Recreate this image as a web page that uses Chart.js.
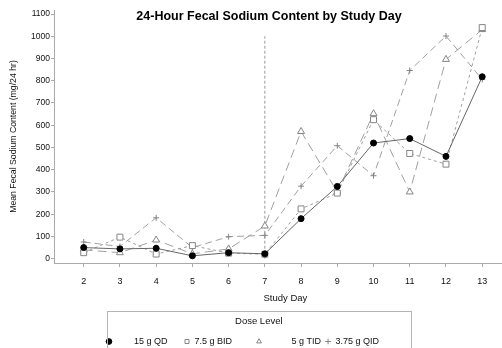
<!DOCTYPE html>
<html>
<head>
<meta charset="utf-8">
<script src="https://cdn.jsdelivr.net/npm/chart.js@4.4.0/dist/chart.umd.min.js"></script>
<style>
  html, body { margin: 0; padding: 0; background: #fff; overflow: hidden; }
  #wrap { position: absolute; left: 0; top: 0; width: 522px; height: 356px; }
</style>
</head>
<body>
<div id="wrap"><canvas id="chart"></canvas></div>
<script>
// ---- values ----
const studyDays = [2, 3, 4, 5, 6, 7, 8, 9, 10, 11, 12, 13];
const qd15   = [50, 44, 47, 13, 27, 22, 180, 325, 520, 540, 460, 818];
const bid75  = [27, 97, 21, 59, 25, 20, 224, 295, 625, 473, 425, 1039];
const tid5   = [40, 27, 84, 22, 44, 147, 572, 300, 652, 300, 896, 1030];
const qid375 = [75, 55, 184, 50, 99, 105, 326, 508, 373, 846, 1001, 806];
const doseLabels = ['15 g QD', '7.5 g BID', '5 g TID', '3.75 g QID'];
const yTicks = [0, 100, 200, 300, 400, 500, 600, 700, 800, 900, 1000, 1100];
const refDay = 7;          // dashed reference line
const refSpan = [0, 1000];
const chartTitle = '24-Hour Fecal Sodium Content by Study Day';

// SAS legend has uneven gaps, imitate with spaces before/after the text
const legendLead  = [7, 0, 10, 0];
const legendTrail = [5, 8, 0, 13];
const legendStart = 106;   // left of the first legend symbol

Chart.defaults.font.family = '"Liberation Sans", Arial, sans-serif';
Chart.defaults.color = '#111';

const pts = vals => studyDays.map((d, i) => ({ x: d, y: vals[i] }));

const extras = {
  id: 'extras',
  // move the centred legend so it starts where the SAS one does
  afterLayout(chart) {
    const lg = chart.legend;
    if (!lg || !lg.lineWidths) return;
    const p = lg.options.labels.padding;
    lg.left = 0;
    lg.right = 2 * legendStart + lg.lineWidths[0] - p;
  },
  afterDraw(chart) {
    const ctx = chart.ctx;
    ctx.save();
    // title sits over the top of the plot
    ctx.fillStyle = '#000';
    ctx.font = 'bold 12.5px "Liberation Sans", Arial, sans-serif';
    ctx.textAlign = 'center';
    ctx.textBaseline = 'middle';
    ctx.fillText(chartTitle, 269, 17);

    // frame round the legend
    const lg = chart.legend;
    if (lg && lg.legendHitBoxes && lg.legendHitBoxes.length) {
      const boxes = lg.legendHitBoxes;
      const l = Math.min(...boxes.map(b => b.left));
      const r = Math.max(...boxes.map(b => b.left + b.width));
      ctx.strokeStyle = '#b4b4b4';
      ctx.lineWidth = 1;
      ctx.strokeRect(Math.round(l + 1) + 0.5, Math.round(lg.top) + 0.5,
                     Math.round(r - l - 2), lg.height + 20);
    }
    ctx.restore();
  }
};

new Chart(document.getElementById('chart'), {
  type: 'line',
  data: {
    datasets: [
      {
        label: doseLabels[0], data: pts(qd15),
        borderColor: '#666', borderWidth: 1,
        pointStyle: 'circle', pointRadius: 3,
        pointBackgroundColor: '#000', pointBorderColor: '#000', pointBorderWidth: 1
      },
      {
        label: doseLabels[1], data: pts(bid75),
        borderColor: '#a0a0a0', borderWidth: 1, borderDash: [3, 3],
        pointStyle: 'rect', pointRadius: 4.2,
        pointBackgroundColor: '#fff', pointBorderColor: '#858585', pointBorderWidth: 1
      },
      {
        label: doseLabels[2], data: pts(tid5),
        borderColor: '#a0a0a0', borderWidth: 1, borderDash: [9, 5],
        pointStyle: 'triangle', pointRadius: 4,
        pointBackgroundColor: '#fff', pointBorderColor: '#858585', pointBorderWidth: 1
      },
      {
        label: doseLabels[3], data: pts(qid375),
        borderColor: '#a0a0a0', borderWidth: 1, borderDash: [7, 4],
        pointStyle: 'cross', pointRadius: 3,
        pointBackgroundColor: '#fff', pointBorderColor: '#858585', pointBorderWidth: 1
      },
      {
        label: '', data: refSpan.map(v => ({ x: refDay, y: v })),
        borderColor: '#999', borderWidth: 1, borderDash: [3, 2],
        pointRadius: 0
      }
    ]
  },
  options: {
    animation: false,
    responsive: true,
    maintainAspectRatio: false,
    layout: { padding: { top: 10, left: 0, right: 0, bottom: 0 } },
    plugins: {
      tooltip: { enabled: false },
      legend: {
        position: 'bottom',
        title: {
          display: true, text: 'Dose Level', color: '#111',
          font: { size: 9.5, lineHeight: 0.6 },
          padding: { top: 6, bottom: 10.3 }
        },
        labels: {
          usePointStyle: true, boxWidth: 6, boxHeight: 4, padding: 4,
          color: '#111', font: { size: 9 },
          generateLabels(chart) {
            const items = Chart.defaults.plugins.legend.labels.generateLabels(chart);
            return items.map(it => {
              const i = it.datasetIndex;
              if (i >= doseLabels.length) return it;
              return { ...it, text: ' '.repeat(legendLead[i]) + it.text + ' '.repeat(legendTrail[i]) };
            });
          },
          filter: item => item.datasetIndex < doseLabels.length
        }
      }
    },
    scales: {
      x: {
        type: 'linear', min: 1.18, max: 13.955,
        afterBuildTicks: s => { s.ticks = studyDays.map(v => ({ value: v })); },
        afterFit: s => { s.height = 48; },
        grid: { drawOnChartArea: false, drawTicks: true, tickLength: 4, color: '#aaa' },
        border: { color: '#aaa' },
        ticks: { autoSkip: false, maxRotation: 0, padding: 9, color: '#111', font: { size: 9 }, callback: v => String(v) },
        title: { display: true, text: 'Study Day', color: '#111', font: { size: 9.5 }, padding: { top: 0, bottom: 7.3 } }
      },
      y: {
        type: 'linear', min: -19.3, max: 1118,
        afterBuildTicks: s => { s.ticks = yTicks.map(v => ({ value: v })); },
        afterFit: s => { s.width = 54; },
        grid: { drawOnChartArea: false, drawTicks: true, tickLength: 3, color: '#aaa' },
        border: { color: '#aaa' },
        ticks: { padding: 1, color: '#111', font: { size: 8.5 }, callback: v => String(v) },
        title: { display: true, text: 'Mean Fecal Sodium Content (mg/24 hr)', color: '#111', font: { size: 8.7 }, padding: { top: 8, bottom: 0 } }
      }
    }
  },
  plugins: [extras]
});
</script>
</body>
</html>
